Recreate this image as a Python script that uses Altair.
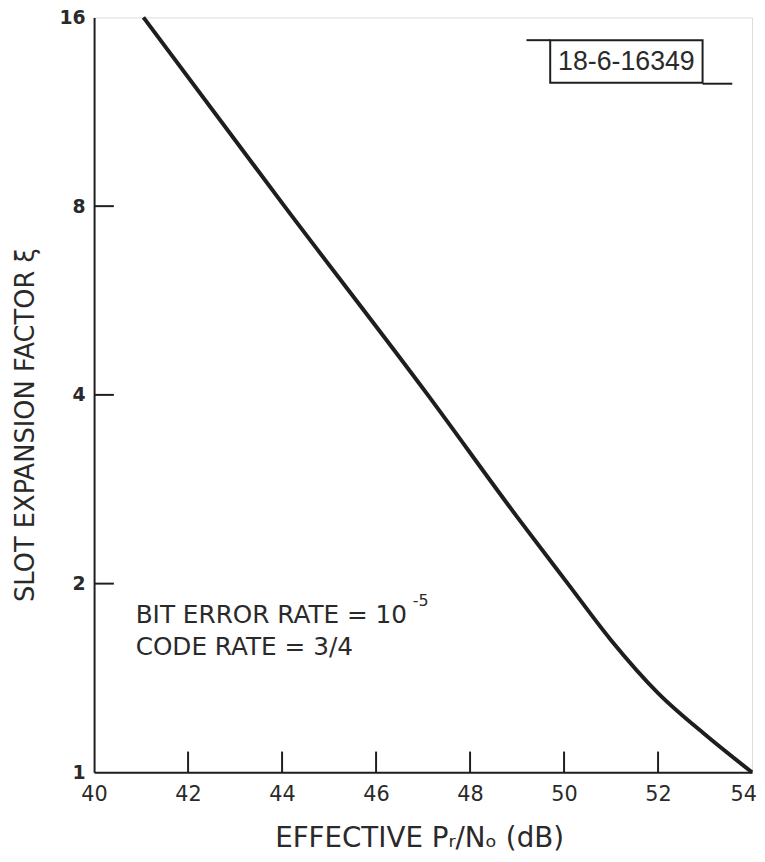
import altair as alt
import pandas as pd

# ---- data ----
curve_x = [41.05, 44.05, 47.1, 49.0, 50.08, 51.0, 52.0, 53.0, 54.0]
curve_y = [16, 8, 4, 2.556, 2.0, 1.625, 1.338, 1.149, 1.0]
x_tick_labels = [40, 42, 44, 46, 48, 50, 52, 54]
y_tick_labels = [1, 2, 4, 8, 16]
x_inner_ticks = [42, 44, 46, 48, 50, 52]
y_inner_ticks = [2, 4, 8]

x_title = "EFFECTIVE Pᵣ/Nₒ (dB)"
y_title = "SLOT EXPANSION FACTOR ξ"
note_line1 = "BIT ERROR RATE = 10"
note_sup = "-5"
note_line2 = "CODE RATE = 3/4"
stamp = "18-6-16349"

W, H = 665, 763
INK = "#1e1e1e"
TXT = "#2a2a2a"
FONT = "DejaVu Sans"

df = pd.DataFrame({"x": curve_x, "y": curve_y})
xscale = alt.Scale(domain=[40, 54], nice=False, zero=False)
yscale = alt.Scale(type="log", base=2, domain=[1, 16], nice=False)

line = alt.Chart(df).mark_line(color=INK, strokeWidth=4, interpolate="monotone").encode(
    x=alt.X("x:Q", scale=xscale,
            axis=alt.Axis(values=x_tick_labels, title=None, tickSize=0, labelPadding=11,
                          labelFontSize=21, labelFont=FONT, labelColor=TXT, grid=False,
                          domainColor=INK, domainWidth=2, labelFlush=False,
                          labelOffset=alt.expr("datum.value == 54 ? -9 : 0"))),
    y=alt.Y("y:Q", scale=yscale,
            axis=alt.Axis(values=y_tick_labels, title=None, tickSize=0, labelPadding=9,
                          labelFontSize=19, labelFont=FONT, labelFontWeight="bold",
                          labelColor=TXT, grid=False, domainColor=INK, domainWidth=2,
                          labelFlush=False)),
)

xt = alt.Chart(pd.DataFrame({"x": x_inner_ticks})).mark_rule(color=INK, strokeWidth=2).encode(
    x="x:Q", y=alt.value(H), y2=alt.value(H - 21))
yt = alt.Chart(pd.DataFrame({"y": y_inner_ticks})).mark_rule(color=INK, strokeWidth=2).encode(
    y="y:Q", x=alt.value(0), x2=alt.value(20))

def label(txt, x, y, size, font=FONT, **kw):
    return alt.Chart(pd.DataFrame({"t": [txt]})).mark_text(
        font=font, fontSize=size, color=TXT, **kw).encode(
        x=alt.value(x), y=alt.value(y), text="t:N")

xtitle = label(x_title, 329, 830, 28, align="center", baseline="middle")
ytitle = label(y_title, -69, 412, 26, align="center", baseline="middle", angle=270)
n1 = label(note_line1, 42, 604, 25, align="left", baseline="middle")
n1s = label(note_sup, 322, 590, 16, align="left", baseline="middle")
n2 = label(note_line2, 42, 636, 25, align="left", baseline="middle")
st = label(stamp, 538, 45, 27, font="Liberation Sans Narrow, Liberation Sans",
           align="center", baseline="middle")

box = alt.Chart(pd.DataFrame({"a": [0]})).mark_rect(fill=None, stroke=INK, strokeWidth=2).encode(
    x=alt.value(461), x2=alt.value(615), y=alt.value(23), y2=alt.value(66))
lead1 = alt.Chart(pd.DataFrame({"a": [0]})).mark_rule(color=INK, strokeWidth=2).encode(
    x=alt.value(437), x2=alt.value(461), y=alt.value(23))
lead2 = alt.Chart(pd.DataFrame({"a": [0]})).mark_rule(color=INK, strokeWidth=2).encode(
    x=alt.value(615), x2=alt.value(645), y=alt.value(67))

chart = alt.layer(line, xt, yt, xtitle, ytitle, n1, n1s, n2, box, lead1, lead2, st).properties(
    width=W, height=H,
    padding={"left": 87, "top": 5, "right": 5, "bottom": 78},
    autosize=alt.AutoSizeParams(type="none"),
).configure_view(stroke=INK, strokeWidth=2).configure(background="white")

chart.save("out.html", embed_options={"renderer": "svg", "actions": False})
